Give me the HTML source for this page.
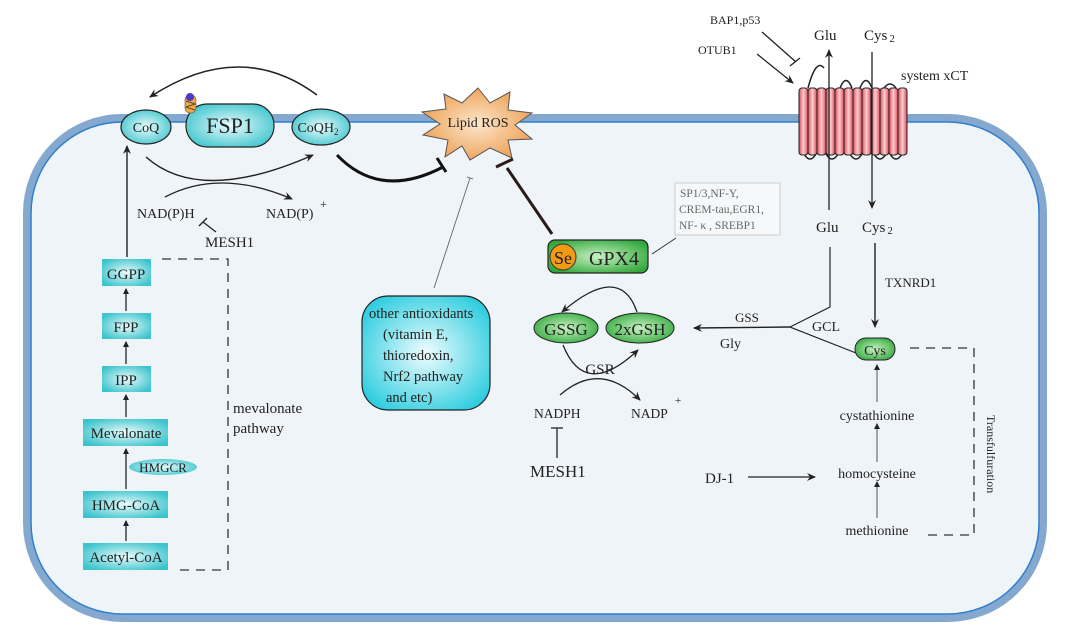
<!DOCTYPE html>
<html><head><meta charset="utf-8"><style>
html,body{margin:0;padding:0;background:#fff;}
svg{display:block;font-family:"Liberation Serif",serif;}
</style></head><body>
<svg width="1080" height="642" viewBox="0 0 1080 642" xmlns="http://www.w3.org/2000/svg">
<defs>
<radialGradient id="cy" cx="50%" cy="50%" r="60%"><stop offset="0" stop-color="#e8fbfc"/><stop offset="1" stop-color="#3cc4cc"/></radialGradient>
<radialGradient id="cy2" cx="50%" cy="50%" r="65%"><stop offset="0" stop-color="#f0fdff"/><stop offset="1" stop-color="#1ec9dc"/></radialGradient>
<radialGradient id="gr" cx="50%" cy="50%" r="60%"><stop offset="0" stop-color="#c9f0c4"/><stop offset="1" stop-color="#2fa83a"/></radialGradient>
<radialGradient id="or" cx="50%" cy="50%" r="60%"><stop offset="0" stop-color="#fde6cc"/><stop offset="1" stop-color="#eb9a48"/></radialGradient>
<linearGradient id="rd" x1="0" x2="1"><stop offset="0" stop-color="#e14a55"/><stop offset="0.5" stop-color="#fbd0d4"/><stop offset="1" stop-color="#e14a55"/></linearGradient>
<marker id="a" markerWidth="10" markerHeight="10" refX="8" refY="5" orient="auto" markerUnits="userSpaceOnUse"><path d="M0,1 L9,5 L0,9 L3,5z" fill="#222"/></marker>
<marker id="as" markerWidth="6" markerHeight="6" refX="5" refY="3" orient="auto" markerUnits="userSpaceOnUse"><path d="M0,0 L6,3 L0,6z" fill="#222"/></marker>
</defs>

<!-- cell -->
<rect x="27" y="118" width="1016" height="500" rx="95" fill="#eff4f9" stroke="#85a8cf" stroke-width="8"/>
<rect x="31" y="122" width="1008" height="492" rx="91" fill="none" stroke="#2f7fd0" stroke-width="1.5"/>

<!-- FSP1 area -->
<path d="M317,95 Q240,38 150,97" fill="none" stroke="#222" stroke-width="1.5" marker-end="url(#a)"/>
<ellipse cx="146" cy="127" rx="25" ry="17" fill="url(#cy)" stroke="#222" stroke-width="1.2"/>
<text x="146" y="132" font-size="14" text-anchor="middle" fill="#222">CoQ</text>
<rect x="186" y="104" width="88" height="43" rx="21" fill="url(#cy)" stroke="#222" stroke-width="1.2"/>
<text x="230" y="133" font-size="22" text-anchor="middle" fill="#222">FSP1</text>
<rect x="185" y="95" width="11" height="18" rx="5" fill="#f0a640" stroke="#555" stroke-width="0.6"/>
<circle cx="190" cy="97" r="4" fill="#4a3cc0"/>
<path d="M186,101 l9,3 l-9,3 l9,3" stroke="#333" stroke-width="0.8" fill="none"/>
<ellipse cx="321" cy="127" rx="29" ry="18" fill="url(#cy)" stroke="#222" stroke-width="1.2"/>
<text x="318" y="132" font-size="14" text-anchor="middle" fill="#222">CoQH<tspan font-size="9" dy="3">2</tspan></text>
<path d="M146,157 Q200,205 313,155" fill="none" stroke="#222" stroke-width="1.5" marker-end="url(#a)"/>
<path d="M165,197 Q220,168 292,199" fill="none" stroke="#222" stroke-width="1.3" marker-end="url(#a)"/>
<text x="137" y="218" font-size="14" fill="#222">NAD(P)H</text>
<text x="266" y="218" font-size="14" fill="#222">NAD(P)</text>
<text x="320" y="208" font-size="12" fill="#222">+</text>
<path d="M216,232 L203,222 M199,226 L207,218" stroke="#222" stroke-width="1.3"/>
<text x="205" y="247" font-size="15" fill="#222">MESH1</text>

<!-- mevalonate -->
<line x1="127" y1="257" x2="127" y2="146" stroke="#222" stroke-width="1.4" marker-end="url(#a)"/>
<g fill="url(#cy)">
<rect x="102" y="259" width="49" height="27"/>
<rect x="102" y="313" width="49" height="26"/>
<rect x="102" y="366" width="49" height="26"/>
<rect x="83" y="419" width="85" height="27"/>
<rect x="83" y="491" width="85" height="27"/>
<rect x="83" y="543" width="85" height="27"/>
</g>
<g font-size="15" text-anchor="middle" fill="#222">
<text x="126" y="279">GGPP</text>
<text x="126" y="332">FPP</text>
<text x="126" y="385">IPP</text>
<text x="126" y="438">Mevalonate</text>
<text x="126" y="510">HMG-CoA</text>
<text x="126" y="562">Acetyl-CoA</text>
</g>
<g stroke="#222" stroke-width="1.3">
<line x1="126" y1="311" x2="126" y2="289" marker-end="url(#as)"/>
<line x1="126" y1="364" x2="126" y2="342" marker-end="url(#as)"/>
<line x1="126" y1="417" x2="126" y2="395" marker-end="url(#as)"/>
<line x1="126" y1="489" x2="126" y2="449" marker-end="url(#as)"/>
<line x1="126" y1="541" x2="126" y2="521" marker-end="url(#as)"/>
</g>
<ellipse cx="163" cy="467" rx="34" ry="8" fill="url(#cy)"/>
<text x="163" y="472" font-size="13" text-anchor="middle" fill="#222">HMGCR</text>
<path d="M162,259 H228 V570 H180" fill="none" stroke="#333" stroke-width="1.3" stroke-dasharray="9,7"/>
<text x="233" y="413" font-size="15" fill="#222">mevalonate</text>
<text x="233" y="433" font-size="15" fill="#222">pathway</text>

<!-- Lipid ROS -->
<polygon points="478,88 490,103 510,92 508,110 532,113 515,125 532,139 508,140 512,158 490,148 470,160 462,146 445,157 448,140 423,135 440,124 422,112 446,109 444,94 462,103" fill="url(#or)" stroke="#555" stroke-width="1"/>
<text x="478" y="127" font-size="14" text-anchor="middle" fill="#222">Lipid ROS</text>
<path d="M337,155 Q380,200 443,167" fill="none" stroke="#111" stroke-width="3"/>
<line x1="437" y1="158" x2="446" y2="172" stroke="#111" stroke-width="3"/>
<line x1="552" y1="234" x2="507" y2="168" stroke="#2a1a1a" stroke-width="3"/>
<line x1="496" y1="167" x2="513" y2="159" stroke="#2a1a1a" stroke-width="3"/>
<line x1="434" y1="288" x2="470" y2="178" stroke="#555" stroke-width="0.8"/>
<line x1="467" y1="177" x2="473" y2="179" stroke="#555" stroke-width="0.8"/>

<!-- antioxidants -->
<rect x="362" y="296" width="128" height="114" rx="26" fill="url(#cy2)" stroke="#222" stroke-width="1.2"/>
<g font-size="14.5" fill="#222">
<text x="369" y="318">other antioxidants</text>
<text x="383" y="339">(vitamin E,</text>
<text x="383" y="360">thioredoxin,</text>
<text x="383" y="381">Nrf2 pathway</text>
<text x="386" y="402">and etc)</text>
</g>

<!-- GPX4 -->
<rect x="548" y="240" width="100" height="33" rx="7" fill="url(#gr)" stroke="#222" stroke-width="1.2"/>
<circle cx="563" cy="257" r="13" fill="#f39a14" stroke="#333" stroke-width="1"/>
<text x="563" y="264" font-size="18" text-anchor="middle" fill="#222">Se</text>
<text x="614" y="265" font-size="20" text-anchor="middle" fill="#222">GPX4</text>
<line x1="652" y1="254" x2="676" y2="238" stroke="#333" stroke-width="1"/>
<rect x="675" y="183" width="105" height="52" fill="#f6f8fa" stroke="#ccc" stroke-width="1"/>
<g font-size="11.5" fill="#666">
<text x="680" y="197">SP1/3,NF-Y,</text>
<text x="679" y="213">CREM-tau,EGR1,</text>
<text x="679" y="229">NF- κ , SREBP1</text>
</g>

<ellipse cx="566" cy="328" rx="32" ry="15" fill="url(#gr)" stroke="#222" stroke-width="1"/>
<text x="566" y="335" font-size="17" text-anchor="middle" fill="#222">GSSG</text>
<ellipse cx="640" cy="328" rx="34" ry="15" fill="url(#gr)" stroke="#222" stroke-width="1"/>
<text x="640" y="335" font-size="17" text-anchor="middle" fill="#222">2xGSH</text>
<path d="M637,312 Q620,262 562,312" fill="none" stroke="#222" stroke-width="1.3" marker-end="url(#a)"/>
<path d="M563,345 Q585,400 638,350" fill="none" stroke="#222" stroke-width="1.3" marker-end="url(#a)"/>
<text x="600" y="374" font-size="15" text-anchor="middle" fill="#222">GSR</text>
<path d="M560,395 Q600,360 640,400" fill="none" stroke="#222" stroke-width="1.3" marker-end="url(#a)"/>
<text x="534" y="418" font-size="13.5" fill="#222">NADPH</text>
<text x="631" y="418" font-size="13.5" fill="#222">NADP</text>
<text x="675" y="404" font-size="11" fill="#222">+</text>
<line x1="557" y1="458" x2="557" y2="428" stroke="#222" stroke-width="1.3"/>
<line x1="551" y1="428" x2="563" y2="428" stroke="#222" stroke-width="1.3"/>
<text x="530" y="477" font-size="17" fill="#222">MESH1</text>

<!-- xCT -->
<text x="710" y="24" font-size="12" fill="#222">BAP1,p53</text>
<text x="698" y="54" font-size="12" fill="#222">OTUB1</text>
<line x1="762" y1="32" x2="796" y2="62" stroke="#222" stroke-width="1.3"/>
<line x1="790" y1="66" x2="800" y2="58" stroke="#222" stroke-width="1.3"/>
<line x1="757" y1="54" x2="793" y2="83" stroke="#222" stroke-width="1.3" marker-end="url(#a)"/>
<g stroke="#222" stroke-width="1.5" fill="none">
<path d="M808,88 q8,-30 16,-20 M840,88 q6,-15 12,0 M860,88 q6,-15 12,0 M884,88 q6,-8 12,0"/>
<path d="M804,154 q6,10 12,0 M826,154 q6,10 12,0 M850,154 q6,10 12,0 M874,154 q6,10 12,0 M890,154 q6,10 12,0"/>
</g>
<g fill="url(#rd)" stroke="#222" stroke-width="1">
<rect x="799" y="88" width="9" height="67" rx="3"/>
<rect x="808" y="88" width="9" height="67" rx="3"/>
<rect x="817" y="88" width="9" height="67" rx="3"/>
<rect x="826" y="88" width="9" height="67" rx="3"/>
<rect x="835" y="88" width="9" height="67" rx="3"/>
<rect x="844" y="88" width="9" height="67" rx="3"/>
<rect x="853" y="88" width="9" height="67" rx="3"/>
<rect x="862" y="88" width="9" height="67" rx="3"/>
<rect x="871" y="88" width="9" height="67" rx="3"/>
<rect x="880" y="88" width="9" height="67" rx="3"/>
<rect x="889" y="88" width="9" height="67" rx="3"/>
<rect x="898" y="88" width="9" height="67" rx="3"/>
</g>
<line x1="829" y1="210" x2="829" y2="50" stroke="#222" stroke-width="1.3" marker-end="url(#a)"/>
<line x1="872" y1="52" x2="872" y2="208" stroke="#222" stroke-width="1.3" marker-end="url(#a)"/>
<text x="814" y="40" font-size="15" fill="#222">Glu</text>
<text x="864" y="40" font-size="15" fill="#222">Cys<tspan font-size="11" dx="2" dy="2">2</tspan></text>
<text x="901" y="80" font-size="14" fill="#222">system xCT</text>
<text x="816" y="232" font-size="15" fill="#222">Glu</text>
<text x="862" y="232" font-size="15" fill="#222">Cys<tspan font-size="11" dx="2" dy="2">2</tspan></text>

<!-- GCL / Cys -->
<line x1="875" y1="243" x2="875" y2="327" stroke="#222" stroke-width="1.4" marker-end="url(#a)"/>
<text x="885" y="287" font-size="13" fill="#222">TXNRD1</text>
<path d="M830,247 V307 L790,327 L856,353" fill="none" stroke="#222" stroke-width="1.2"/>
<line x1="790" y1="327" x2="694" y2="328" stroke="#222" stroke-width="1.4" marker-end="url(#a)"/>
<text x="735" y="322" font-size="13" fill="#222">GSS</text>
<text x="720" y="348" font-size="14" fill="#222">Gly</text>
<text x="812" y="331" font-size="14" fill="#222">GCL</text>
<rect x="855" y="338" width="40" height="22" rx="11" fill="url(#gr)" stroke="#222" stroke-width="1"/>
<text x="875" y="355" font-size="14" text-anchor="middle" fill="#222">Cys</text>
<path d="M910,348 H974 V535 H926" fill="none" stroke="#333" stroke-width="1.3" stroke-dasharray="9,7"/>
<text transform="translate(987,415) rotate(90)" font-size="12" fill="#222">Transfulfuration</text>
<g stroke="#444" stroke-width="0.9">
<line x1="877" y1="402" x2="877" y2="365" marker-end="url(#as)"/>
<line x1="877" y1="462" x2="877" y2="424" marker-end="url(#as)"/>
<line x1="877" y1="518" x2="877" y2="482" marker-end="url(#as)"/>
</g>
<text x="877" y="420" font-size="14" text-anchor="middle" fill="#222">cystathionine</text>
<text x="877" y="478" font-size="14" text-anchor="middle" fill="#222">homocysteine</text>
<text x="877" y="535" font-size="14" text-anchor="middle" fill="#222">methionine</text>
<text x="705" y="483" font-size="15" fill="#222">DJ-1</text>
<line x1="748" y1="477" x2="815" y2="477" stroke="#222" stroke-width="1.3" marker-end="url(#a)"/>
</svg>
</body></html>
